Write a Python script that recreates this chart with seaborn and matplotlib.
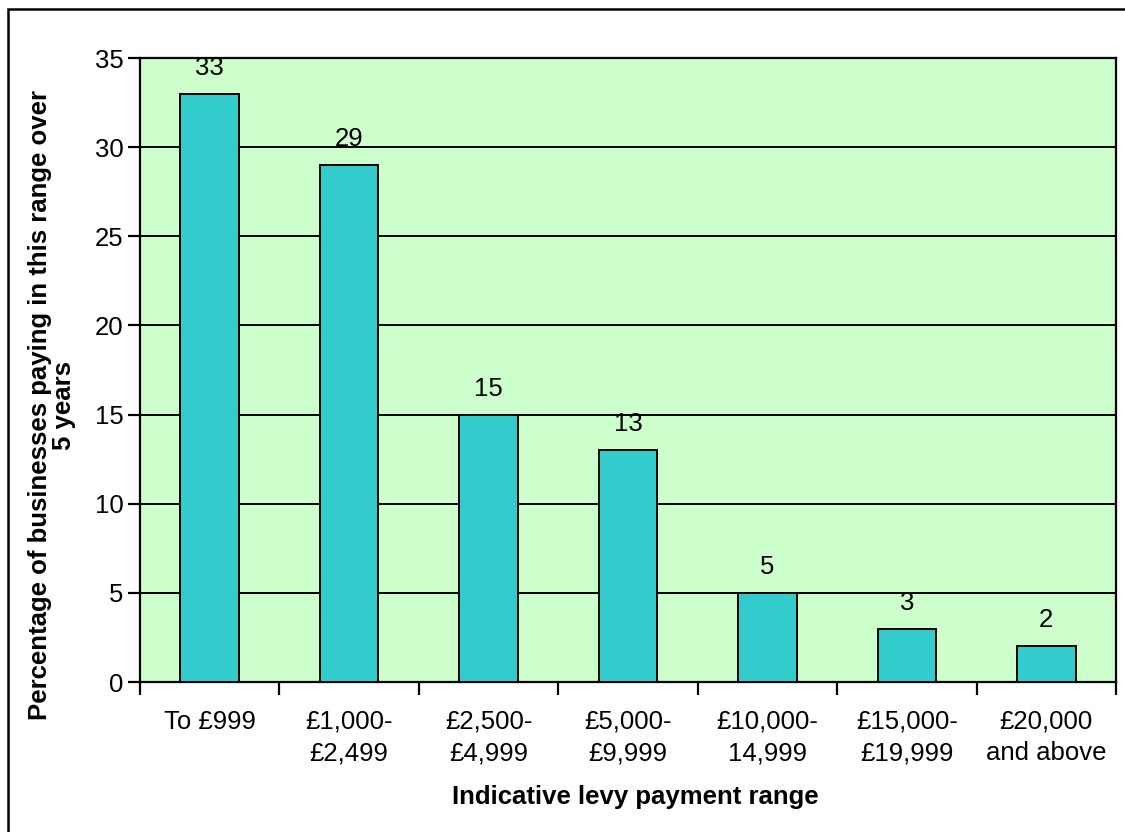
import matplotlib
matplotlib.use("Agg")
import matplotlib.pyplot as plt
import seaborn as sns
import pandas as pd
from matplotlib.patches import Rectangle
from matplotlib.ticker import FixedLocator, NullFormatter

categories = ["To £999", "£1,000-\n£2,499", "£2,500-\n£4,999", "£5,000-\n£9,999",
              "£10,000-\n14,999", "£15,000-\n£19,999", "£20,000\nand above"]
percentages = [33, 29, 15, 13, 5, 3, 2]
y_ticks = [0, 5, 10, 15, 20, 25, 30, 35]

sns.set_theme(style="white")
plt.rcParams["font.family"] = ["Liberation Sans", "DejaVu Sans"]
plt.rcParams["text.color"] = "black"
plt.rcParams["xtick.color"] = "black"
plt.rcParams["ytick.color"] = "black"

FS = 18.5
W, H = 1125, 832
fig = plt.figure(figsize=(W / 100, H / 100), dpi=100)
ax = fig.add_axes([140 / W, 1 - 682 / H, (1116 - 140) / W, (682 - 58) / H])

df = pd.DataFrame({"range": categories, "pct": percentages})
sns.barplot(data=df, x="range", y="pct", ax=ax, color="#33CCCC", width=0.42,
            edgecolor="black", linewidth=1.4, saturation=1, zorder=3)

ax.set_facecolor("#CCFFCC")
ax.set_xlim(-0.5, len(categories) - 0.5)
ax.set_ylim(0, 35)
ax.set_yticks(y_ticks)
ax.yaxis.grid(True, color="black", linewidth=1.4, zorder=1)
ax.set_axisbelow(True)
for s in ax.spines.values():
    s.set_color("black")
    s.set_linewidth(1.6)

# category labels centred, tick marks at category boundaries
ax.xaxis.set_minor_locator(FixedLocator([i - 0.5 for i in range(len(categories) + 1)]))
ax.xaxis.set_minor_formatter(NullFormatter())
ax.tick_params(axis="x", which="major", length=0, labelsize=FS, pad=20,
               labelcolor="black")
ax.tick_params(axis="x", which="minor", length=9, width=1.6, color="black",
               direction="out", bottom=True)
ax.tick_params(axis="y", which="major", length=9, width=1.6, color="black",
               direction="out", left=True, labelsize=FS, pad=3, labelcolor="black")
for lab in ax.get_xticklabels():
    lab.set_multialignment("center")
    lab.set_linespacing(1.4)

for i, v in enumerate(percentages):
    ax.annotate(str(v), (i, v), xytext=(0, 10), textcoords="offset points",
                ha="center", va="bottom", fontsize=FS, color="black")

ax.set_xlabel("")
ax.set_ylabel("")
fig.text(52 / W, 1 - 405 / H,
         "Percentage of businesses paying in this range over\n5 years",
         rotation=90, ha="center", va="center", fontsize=FS,
         fontweight="bold", multialignment="center", linespacing=0.95,
         color="black")
fig.text(635 / W, 1 - 797 / H, "Indicative levy payment range",
         ha="center", va="center", fontsize=FS, fontweight="bold", color="black")

# outer chart frame
fig.patches.append(Rectangle((8 / W, -0.1), 1.2, 1 - 9 / H + 0.1,
                             transform=fig.transFigure, fill=False,
                             edgecolor="black", linewidth=1.8))

fig.savefig("out.png", dpi=100)
